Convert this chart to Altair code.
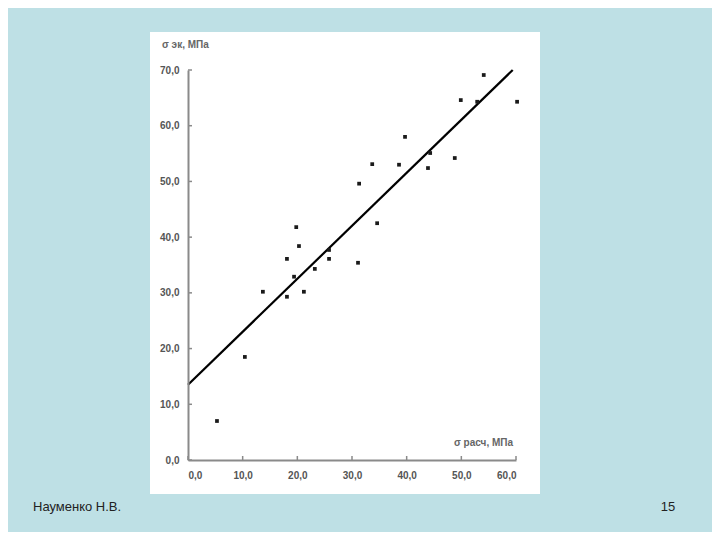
import altair as alt
import pandas as pd

# measured points (calculated vs experimental)
x_calc = [5.3, 10.4, 13.7, 18.1, 19.4, 21.2, 18.1, 19.8, 20.3, 23.2, 25.8, 25.8, 31.1,
          34.6, 31.3, 33.7, 38.6, 39.7, 43.9, 44.3, 48.8, 49.9, 52.9, 54.1, 60.2]
y_exp = [7.0, 18.5, 30.2, 29.3, 32.9, 30.2, 36.1, 41.8, 38.4, 34.3, 37.7, 36.1, 35.4,
         42.5, 49.6, 53.1, 53.0, 58.0, 52.4, 55.1, 54.2, 64.6, 64.3, 69.1, 64.3]
# regression line end points
line_x = [0.0, 59.4]
line_y = [13.5, 70.0]
x_ticks = [0, 10, 20, 30, 40, 50, 60]
y_ticks = [0, 10, 20, 30, 40, 50, 60, 70]

pts = pd.DataFrame({"x": x_calc, "y": y_exp})
ln = pd.DataFrame({"x": line_x, "y": line_y})
xt = pd.DataFrame({"v": x_ticks})
yt = pd.DataFrame({"v": y_ticks})

W, H = 328, 390
fmt = "replace(format(datum.value, '.1f'), '.', ',')"
xs = alt.Scale(domain=[0, 60], nice=False, zero=False)
ys = alt.Scale(domain=[0, 70], nice=False, zero=False)

panel = alt.Chart(pd.DataFrame({"a": [0]})).mark_rect(color="white").encode(
    x=alt.value(-38), x2=alt.value(352), y=alt.value(-38), y2=alt.value(424)
)

axis_common = dict(title=None, ticks=False, grid=False, domainColor="#8a8a8a",
                   domainWidth=2, labelColor="#555", labelFont="Liberation Sans",
                   labelFontSize=10, labelFontWeight="bold", zindex=2)

points = alt.Chart(pts).mark_square(size=14, color="#1a1a1a", opacity=1).encode(
    x=alt.X("x:Q", scale=xs,
            axis=alt.Axis(values=x_ticks, labelExpr=fmt, labelPadding=10, **axis_common)),
    y=alt.Y("y:Q", scale=ys,
            axis=alt.Axis(values=y_ticks, labelExpr=fmt, labelPadding=9, **axis_common)),
)

line = alt.Chart(ln).mark_line(color="black", strokeWidth=2.2).encode(
    x=alt.X("x:Q", scale=xs), y=alt.Y("y:Q", scale=ys)
)

xtk = alt.Chart(xt).mark_rule(color="#8a8a8a", strokeWidth=1.5).encode(
    x=alt.X("v:Q", scale=xs), y=alt.value(H - 4), y2=alt.value(H)
)
ytk = alt.Chart(yt).mark_rule(color="#8a8a8a", strokeWidth=1.5).encode(
    y=alt.Y("v:Q", scale=ys), x=alt.value(0), x2=alt.value(4)
)

ytitle = alt.Chart(pd.DataFrame({"t": ["σ эк, МПа"]})).mark_text(
    align="left", fontSize=10, color="#666", font="Liberation Sans", fontWeight="bold"
).encode(text="t:N", x=alt.value(-26), y=alt.value(-25))
xtitle = alt.Chart(pd.DataFrame({"t": ["σ расч, МПа"]})).mark_text(
    align="left", fontSize=10, color="#666", font="Liberation Sans", fontWeight="bold"
).encode(text="t:N", x=alt.value(266), y=alt.value(373))

author = alt.Chart(pd.DataFrame({"t": ["Науменко Н.В."]})).mark_text(
    align="left", fontSize=13, color="#222", font="Liberation Sans"
).encode(text="t:N", x=alt.value(-155), y=alt.value(437))
page = alt.Chart(pd.DataFrame({"t": ["15"]})).mark_text(
    align="center", fontSize=13, color="#222", font="Liberation Sans"
).encode(text="t:N", x=alt.value(480), y=alt.value(437))

chart = alt.layer(panel, line, points, xtk, ytk, ytitle, xtitle, author, page).properties(
    width=W, height=H,
    autosize=alt.AutoSizeParams(type="none"),
    padding={"left": 180, "top": 62, "right": 196, "bottom": 72},
    background="#BEE0E5",
).configure_view(stroke=None)

chart.save("out.html", embed_options={"renderer": "svg", "actions": False})
